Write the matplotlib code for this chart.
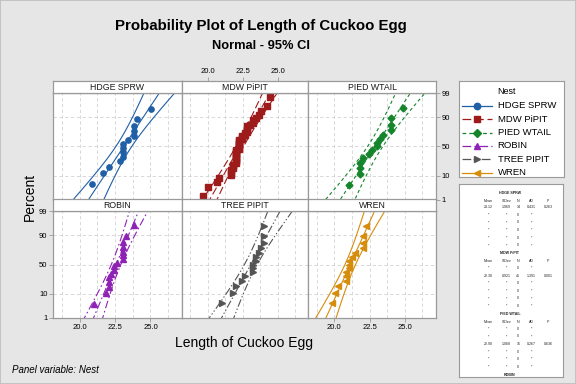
import math
import numpy as np
import matplotlib
matplotlib.use('Agg')
import matplotlib.pyplot as plt
from matplotlib import font_manager
from matplotlib.patches import Rectangle
from statistics import NormalDist

# cuckoo egg lengths (mm) by host nest
nests = ['HDGE SPRW', 'MDW PiPIT', 'PIED WTAIL', 'ROBIN', 'TREE PIPIT', 'WREN']
hdge_sprw = [20.85, 21.65, 22.05, 22.85, 23.05, 23.05, 23.05, 23.05, 23.45, 23.85,
             23.85, 23.85, 24.05, 25.05]
mdw_pipit = [19.65, 20.05, 20.65, 20.85, 21.65, 21.65, 21.65, 21.85, 21.85, 21.85,
             22.05, 22.05, 22.05, 22.05, 22.05, 22.05, 22.05, 22.05, 22.05, 22.05,
             22.25, 22.25, 22.25, 22.25, 22.25, 22.25, 22.25, 22.25, 22.45, 22.45,
             22.45, 22.65, 22.65, 22.85, 22.85, 22.85, 22.85, 23.05, 23.25, 23.25,
             23.45, 23.65, 23.85, 24.25, 24.45]
pied_wtail = [21.05, 21.85, 21.85, 21.85, 22.05, 22.45, 22.65, 23.05, 23.05, 23.25,
              23.45, 24.05, 24.05, 24.05, 24.85]
robin = [21.05, 21.85, 22.05, 22.05, 22.05, 22.25, 22.45, 22.45, 22.65, 23.05,
         23.05, 23.05, 23.05, 23.05, 23.25, 23.85]
tree_pipit = [21.05, 21.85, 22.05, 22.45, 22.65, 23.25, 23.25, 23.25, 23.45, 23.45,
              23.65, 23.85, 24.05, 24.05, 24.05]
wren = [19.85, 20.05, 20.25, 20.85, 20.85, 20.85, 21.05, 21.05, 21.05, 21.25,
        21.45, 22.05, 22.05, 22.05, 22.25]
groups = [hdge_sprw, mdw_pipit, pied_wtail, robin, tree_pipit, wren]

pct_ticks = [1, 10, 50, 90, 99]
x_ticks = [20.0, 22.5, 25.0]

colors = ['#1f5fa6', '#9e1b1b', '#14852b', '#8e22b5', '#555555', '#d68d0c']
markers = ['o', 's', 'D', '^', '>', '<']
msizes = [3.8, 3.7, 3.5, 4.2, 4.2, 4.2]
styles = ['-', (0, (7, 3)), (0, (3, 2.5)), (0, (7, 2.5, 1.5, 2.5)),
          (0, (7, 2, 1.2, 2, 1.2, 2)), '-']

avail = {f.name for f in font_manager.fontManager.ttflist}
base = 'Liberation Sans' if 'Liberation Sans' in avail else 'DejaVu Sans'
narrow = 'Liberation Sans Narrow' if 'Liberation Sans Narrow' in avail else base
plt.rcParams['font.family'] = [base, 'DejaVu Sans']

nd = NormalDist()
zq = lambda p: nd.inv_cdf(p)

W, H = 576, 384
fig = plt.figure(figsize=(5.76, 3.84), dpi=100, facecolor='#e6e6e6')


def box(x0, y0, x1, y1):
    return [x0 / W, 1 - y1 / H, (x1 - x0) / W, (y1 - y0) / H]


def ad_test(x):
    x = np.sort(np.asarray(x))
    n = len(x)
    m, s = x.mean(), x.std(ddof=1)
    F = np.array([nd.cdf((v - m) / s) for v in x])
    i = np.arange(1, n + 1)
    a2 = -n - np.sum((2 * i - 1) * (np.log(F) + np.log(1 - F[::-1]))) / n
    a = a2 * (1 + 0.75 / n + 2.25 / n ** 2)
    if a < 0.2:
        p = 1 - math.exp(-13.436 + 101.14 * a - 223.73 * a ** 2)
    elif a < 0.34:
        p = 1 - math.exp(-8.318 + 42.796 * a - 59.938 * a ** 2)
    elif a < 0.6:
        p = math.exp(0.9177 - 4.279 * a - 1.38 * a ** 2)
    else:
        p = math.exp(1.2937 - 5.709 * a + 0.0186 * a ** 2)
    return m, s, n, a2, p


cols_x = [53.3, 181.7, 308.3, 435.7]
rows_y = [(81, 93.3, 199.5), (199.5, 211, 318)]
xlim = (18.15, 27.2)
ylim = (zq(0.01), zq(0.99))
frame = '#9a9a9a'

for k, (name, data) in enumerate(zip(nests, groups)):
    r, c = divmod(k, 3)
    st, pt, pb = rows_y[r]
    ax = fig.add_axes(box(cols_x[c], pt, cols_x[c + 1], pb))
    sax = fig.add_axes(box(cols_x[c], st, cols_x[c + 1], pt))
    ax.set_xlim(xlim)
    ax.set_ylim(ylim)
    sax.set_xlim(xlim)
    for a in (ax, sax):
        for sp in a.spines.values():
            sp.set_color(frame)
            sp.set_linewidth(0.9)
        a.tick_params(length=3, width=0.6, color=frame, labelsize=5.5, pad=1.2)

    for g in np.arange(18.75, 27.0, 1.25):
        ax.axvline(g, color='#d2d2d2', lw=0.6, ls=(0, (4, 3)), zorder=0)
    for p in pct_ticks[1:-1]:
        ax.axhline(zq(p / 100), color='#d2d2d2', lw=0.6, ls=(0, (4, 3)), zorder=0)

    x = np.sort(np.array(data))
    n = len(x)
    pos = np.array([zq((i - 0.3) / (n + 0.4)) for i in range(1, n + 1)])
    m, s = x.mean(), x.std(ddof=1)
    zz = np.linspace(ylim[0] - 0.2, ylim[1] + 0.2, 120)
    hw = 1.96 * s * np.sqrt(1 / n + zz ** 2 / (2 * n))
    for off in (-hw, 0 * hw, hw):
        ax.plot(m + s * zz + off, zz, color=colors[k], ls=styles[k], lw=0.8)
    ax.plot(x, pos, ls='none', marker=markers[k], ms=msizes[k],
            color=colors[k], mec=colors[k], zorder=3)

    sax.text(0.5, 0.45, name, transform=sax.transAxes, ha='center', va='center',
             fontsize=6.3, color='#1a1a1a')
    sax.set_yticks([])

    ax.set_yticks([zq(p / 100) for p in pct_ticks])
    ax.set_yticklabels([str(p) for p in pct_ticks])
    ax.set_xticks(x_ticks)
    ax.set_xticklabels(['%.1f' % t for t in x_ticks])
    ax.tick_params(left=(r == 1 and c == 0), labelleft=(r == 1 and c == 0),
                   right=(r == 0 and c == 2), labelright=(r == 0 and c == 2),
                   bottom=(r == 1 and c != 1), labelbottom=(r == 1 and c != 1))
    if r == 0 and c == 1:
        sax.xaxis.tick_top()
        sax.set_xticks(x_ticks)
        sax.set_xticklabels(['%.1f' % t for t in x_ticks])
    else:
        sax.set_xticks([])

# titles and labels
fig.text(261 / W, 1 - 26 / H, 'Probability Plot of Length of Cuckoo Egg',
         ha='center', va='center', fontsize=10.8, fontweight='bold', family=narrow)
fig.text(261 / W, 1 - 46 / H, 'Normal - 95% CI', ha='center', va='center',
         fontsize=9.3, fontweight='bold', family=narrow)
fig.text(244 / W, 1 - 343 / H, 'Length of Cuckoo Egg', ha='center', va='center',
         fontsize=10)
fig.text(30 / W, 1 - 197 / H, 'Percent', ha='center', va='center', rotation=90,
         fontsize=10)
fig.text(12 / W, 1 - 370 / H, 'Panel variable: Nest', ha='left', va='center',
         fontsize=7, style='italic')

# legend box
lax = fig.add_axes(box(459, 81, 564, 177))
lax.set_xlim(0, 105)
lax.set_ylim(96, 0)
lax.set_xticks([])
lax.set_yticks([])
for sp in lax.spines.values():
    sp.set_color(frame)
lax.text(38.7, 10.7, 'Nest', fontsize=6.5, va='center', ha='left')
for k, name in enumerate(nests):
    y = 24.7 + k * 13.4
    lax.plot([2.7, 32.7], [y, y], color=colors[k], ls=styles[k], lw=0.9)
    lax.plot([17.7], [y], marker=markers[k], ms=msizes[k] + 0.8, color=colors[k])
    lax.text(38.7, y, name, fontsize=6.8, va='center', ha='left')

# statistics table box
tax = fig.add_axes(box(459, 184, 563, 377))
tax.set_xlim(459, 563)
tax.set_ylim(377, 184)
tax.set_xticks([])
tax.set_yticks([])
for sp in tax.spines.values():
    sp.set_color(frame)
colx = [488.3, 506.7, 518.3, 531.7, 548.3]
heads = ['Mean', 'StDev', 'N', 'AD', 'P']
stats = [ad_test(g) for g in groups]
tiny = dict(fontsize=2.6, ha='center', va='center', color='#222222')
for b in range(4):
    y0 = 192.7 + b * 60.7
    tax.text(510, y0, nests[b], fontweight='bold', **tiny)
    if b == 3:
        break
    for cx, h in zip(colx, heads):
        tax.text(cx, y0 + 8, h, **tiny)
    for j in range(6):
        yy = y0 + 14.6 + j * 7.6
        if j == b:
            m, s, n, a2, p = stats[j]
            vals = ['%.2f' % m, '%.3f' % s, '%d' % n, '%.3f' % a2, '%.3f' % p]
            for cx, v in zip(colx, vals):
                tax.text(cx, yy, v, **tiny)
        else:
            for cx, v in zip(colx[:4], ['*', '*', '0', '*']):
                tax.text(cx, yy, v, **tiny)

fig.patches.append(Rectangle((0, 0), 1, 1, transform=fig.transFigure, fill=False,
                             ec='#bdbdbd', lw=1.2))

fig.savefig('out.png', dpi=100, facecolor=fig.get_facecolor())
